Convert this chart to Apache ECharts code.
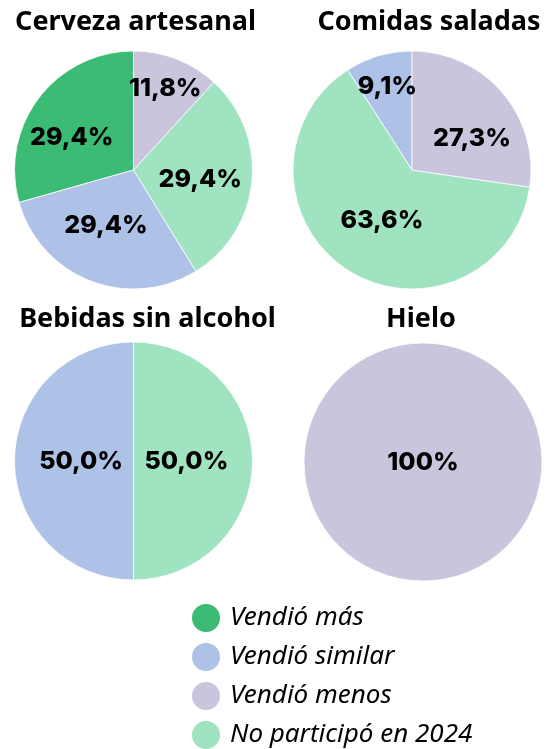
<!DOCTYPE html>
<html><head><meta charset="utf-8">
<script src="https://cdn.jsdelivr.net/npm/echarts@6/dist/echarts.min.js"></script>
<style>html,body{margin:0;padding:0;background:#fff}#c{width:551px;height:749px}</style>
</head><body><div id="c"></div>
<script>
// ---- data ----
const categories = ['Vendió más', 'Vendió similar', 'Vendió menos', 'No participó en 2024'];
const pieTitles = ['Cerveza artesanal', 'Comidas saladas', 'Bebidas sin alcohol', 'Hielo'];
const cervezaArtesanal = [29.4, 29.4, 11.8, 29.4];
const comidasSaladas = [0, 9.1, 27.3, 63.6];
const bebidasSinAlcohol = [0, 50.0, 0, 50.0];
const hielo = [0, 0, 100, 0];
const pieValues = [cervezaArtesanal, comidasSaladas, bebidasSinAlcohol, hielo];

// ---- styles / layout ----
const drawOrder = [0, 1, 3, 2]; // counter-clockwise from 12 o'clock
const colors = ['#3bbb73', '#aec1e6', '#cbc4dd', '#9fe3c1'];
const FONT = 'Noto Sans';
const LABEL_FONT = 'Inter';
const pieCenters = [[133.5, 170], [412, 170], [133.5, 461], [423, 462]];
const pieRadius = 119;
const titleCenters = [[135.5, 22], [429, 22], [147.5, 319], [421, 319]];
// label radial factor and nudge, per category index
const labelStyle = [
  [{k: 0.587, d: [-6, 10]}, {k: 0.52, d: [-5, -2]}, {k: 0.737, d: [0, 0]}, {k: 0.564, d: [0, 3]}],
  [null, {k: 0.734, d: [0, 0]}, {k: 0.567, d: [9, 13]}, {k: 0.497, d: [2, 1]}],
  [null, {k: 0.44, d: [0, 0]}, null, {k: 0.445, d: [0, 0]}],
  [null, null, null, null]
];

function fmt(v) {
  return v === 100 ? '100%' : v.toFixed(1).replace('.', ',') + '%';
}

const series = pieValues.map((vals, pi) => {
  const items = drawOrder.filter(ci => vals[ci] > 0).map(ci => ({
    name: categories[ci], value: vals[ci], catIndex: ci,
    itemStyle: {color: colors[ci]}
  }));
  const full = items.length === 1;
  return {
    type: 'pie',
    center: pieCenters[pi],
    radius: [0, pieRadius],
    startAngle: 90,
    clockwise: false,
    animation: false,
    emphasis: {disabled: true},
    itemStyle: {borderColor: '#ffffff', borderWidth: 0.8},
    label: {
      show: true, position: full ? 'center' : 'inside',
      formatter: p => fmt(p.value),
      fontFamily: LABEL_FONT, fontSize: 25, fontWeight: 800, color: '#000'
    },
    labelLine: {show: false},
    labelLayout: full ? null : function (p) {
      const st = labelStyle[pi][items[p.dataIndex].catIndex];
      const r = p.labelRect;
      const lx = r.x + r.width / 2, ly = r.y + r.height / 2;
      const c = pieCenters[pi];
      let vx = lx - c[0], vy = ly - c[1];
      const len = Math.hypot(vx, vy) || 1;
      vx /= len; vy /= len;
      const tx = c[0] + st.k * pieRadius * vx + st.d[0];
      const ty = c[1] + st.k * pieRadius * vy + st.d[1];
      return {dx: tx - lx, dy: ty - ly};
    },
    data: items
  };
});

const graphics = pieTitles.map((t, i) => ({
  type: 'text', x: titleCenters[i][0], y: titleCenters[i][1],
  style: {
    text: t, align: 'center', verticalAlign: 'middle',
    textAlign: 'center', textVerticalAlign: 'middle',
    fontFamily: FONT, fontSize: 27, fontWeight: 'bold', fill: '#000'
  }
}));

const chart = echarts.init(document.getElementById('c'), null, {renderer: 'canvas'});
chart.setOption({
  backgroundColor: '#ffffff',
  animation: false,
  graphic: graphics,
  legend: {
    orient: 'vertical', left: 190, top: 602, padding: 0,
    width: 340, height: 300,
    itemWidth: 30, itemHeight: 30, itemGap: 7, icon: 'circle',
    selectedMode: false,
    data: categories,
    textStyle: {fontFamily: FONT, fontStyle: 'italic', fontSize: 26, color: '#000', padding: [0, 0, 0, 4]}
  },
  series: series
});
</script>
</body></html>
